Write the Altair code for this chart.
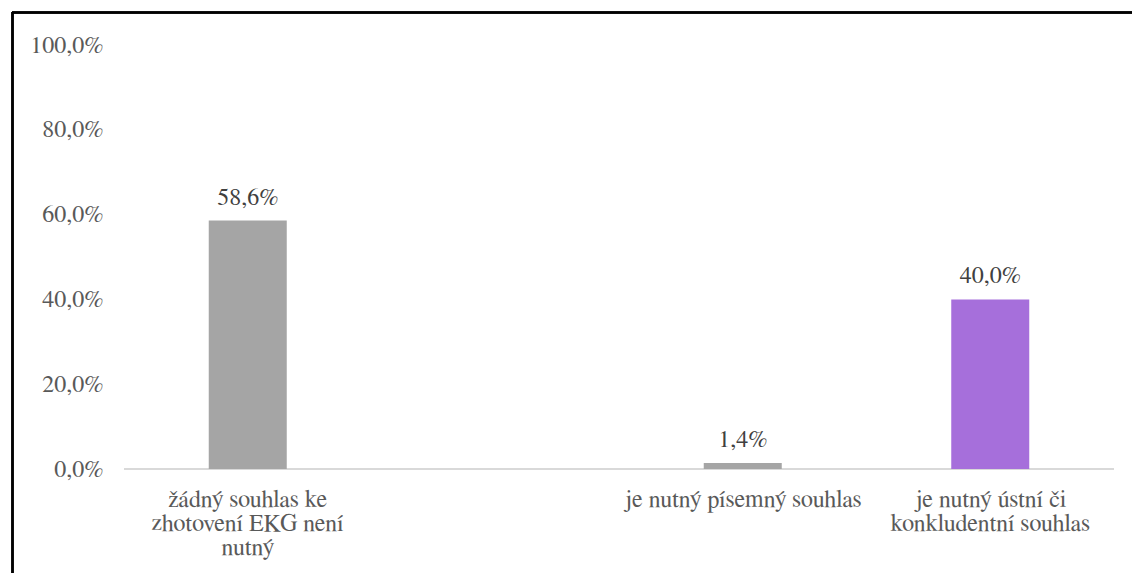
import altair as alt
import pandas as pd

categories = ["A", "B", "C", "D"]
labels = ["žádný souhlas ke|zhotovení EKG není|nutný", "", "je nutný písemný souhlas", "je nutný ústní či|konkludentní souhlas"]
values = [0.586, None, 0.014, 0.400]
colors = ["#A5A5A5", "#A5A5A5", "#A5A5A5", "#A66FDB"]

df = pd.DataFrame({"cat": categories, "label": labels, "value": values, "color": colors})

W, H = 990, 424
FONT = "FreeSerif"
FS = 24

x = alt.X("cat:N", sort=categories, axis=None,
          scale=alt.Scale(paddingInner=0, paddingOuter=0))

base = alt.Chart(df)

bars = base.mark_bar(size=78).encode(
    x=x,
    y=alt.Y("value:Q", scale=alt.Scale(domain=[0, 1]),
            axis=alt.Axis(values=[0, 0.2, 0.4, 0.6, 0.8, 1.0],
                          labelExpr="replace(format(datum.value, '.1%'), '.', ',')",
                          title=None, domain=False, ticks=False, grid=False,
                          labelFont=FONT, labelFontSize=FS, labelColor="#595959",
                          labelPadding=21)),
    color=alt.Color("color:N", scale=None),
).transform_filter("datum.value != null")

vlabels = base.transform_filter("datum.value != null").transform_calculate(
    txt="replace(format(datum.value, '.1%'), '.', ',')"
).mark_text(font=FONT, fontSize=FS, color="#404040", baseline="alphabetic", dy=-16).encode(
    x=x, y="value:Q", text="txt:N"
)

clabels = base.mark_text(font=FONT, fontSize=FS, color="#595959", baseline="alphabetic",
                         lineBreak="|", lineHeight=24).encode(
    x=x, y=alt.value(H + 38), text="label:N"
)

axis_line = base.mark_rule(color="#D9D9D9", strokeWidth=1.5).encode(
    x=alt.value(0), x2=alt.value(W), y=alt.value(H)
)

border_top = base.mark_rule(color="#000000", strokeWidth=2).encode(
    x=alt.value(-112), x2=alt.value(1100), y=alt.value(-32.5)
)
border_left = base.mark_rule(color="#000000", strokeWidth=2).encode(
    x=alt.value(-111.5), y=alt.value(-33), y2=alt.value(H + 200)
)

chart = alt.layer(axis_line, bars, vlabels, clabels, border_top, border_left).properties(
    width=W, height=H,
    padding={"left": 124, "top": 45, "right": 18, "bottom": 104},
    autosize=alt.AutoSizeParams(type="none"),
).configure_view(stroke=None)

chart.save("out.html", embed_options={"renderer": "svg", "actions": False})
